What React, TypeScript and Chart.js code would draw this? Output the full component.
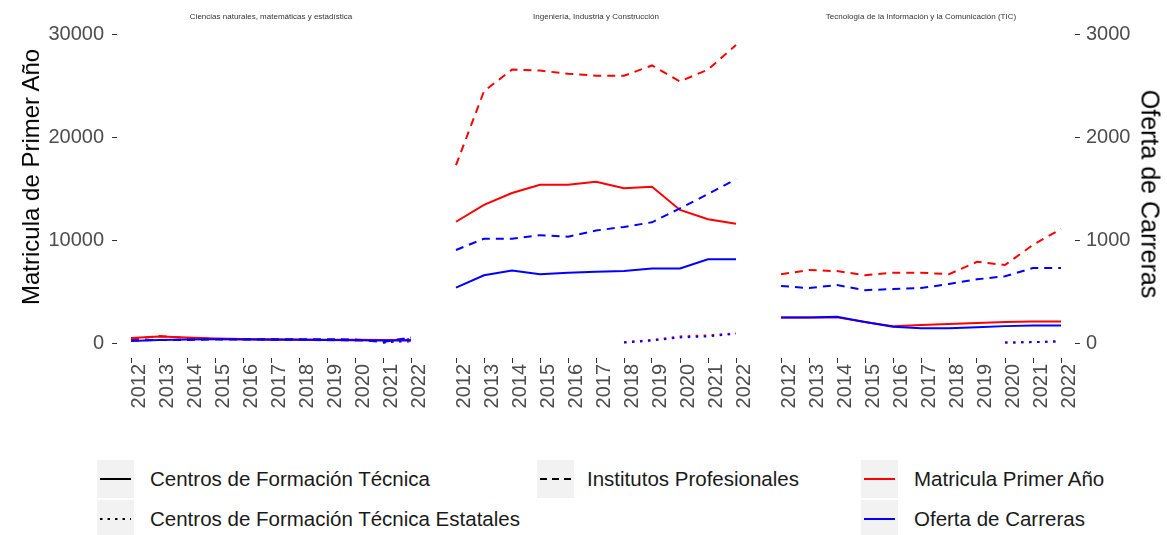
import React, { useEffect, useRef } from 'react';
import { Chart, registerables } from 'chart.js';

Chart.register(...registerables);

const FONT = '"Liberation Sans", Arial, Helvetica, sans-serif';
Chart.defaults.font.family = FONT;

// ---------- data ----------
const years = [2012, 2013, 2014, 2015, 2016, 2017, 2018, 2019, 2020, 2021, 2022];
const yTicks = [0, 10000, 20000, 30000];
const y1Ticks = [0, 1000, 2000, 3000];
const panelTitles = [
  'Ciencias naturales, matemáticas y estadística',
  'Ingeniería, Industria y Construcción',
  'Tecnología de la Información y la Comunicación (TIC)',
];

// Ciencias naturales
const cienciasMatCFT = [500, 650, 550, 450, 400, 380, 350, 330, 320, 300, 300];
const cienciasMatIP = [350, 700, 500, 400, 350, 330, 300, 280, 250, 250, 400];
const cienciasOfCFT = [20, 30, 35, 38, 35, 33, 32, 30, 28, 25, 25];
const cienciasOfIP = [25, 30, 30, 35, 38, 38, 38, 38, 35, 10, 55];
const cienciasYearsCFTE = [2021, 2022];
const cienciasMatCFTE = [80, 150];
const cienciasOfCFTE = [3, 40];

// Ingeniería
const ingMatCFT = [11800, 13450, 14600, 15400, 15400, 15700, 15050, 15200, 12950, 12050, 11600];
const ingMatIP = [17300, 24500, 26600, 26500, 26200, 26000, 26000, 27000, 25450, 26600, 29000];
const ingOfCFT = [540, 660, 705, 670, 685, 695, 700, 725, 725, 815, 815];
const ingOfIP = [905, 1015, 1015, 1050, 1035, 1095, 1130, 1175, 1310, 1450, 1595];
const ingYearsCFTE = [2018, 2019, 2020, 2021, 2022];
const ingMatCFTE = [100, 300, 650, 750, 950];
const ingOfCFTE = [5, 25, 55, 65, 90];

// TIC
const ticMatCFT = [2500, 2500, 2500, 2050, 1650, 1750, 1850, 1950, 2050, 2100, 2100];
const ticMatIP = [6700, 7100, 7000, 6600, 6850, 6850, 6700, 7900, 7600, 9550, 11100];
const ticOfCFT = [250, 250, 255, 205, 160, 145, 145, 155, 165, 170, 170];
const ticOfIP = [555, 535, 565, 515, 525, 535, 575, 620, 650, 730, 730];
const ticYearsCFTE = [2020, 2021, 2022];
const ticMatCFTE = [50, 100, 170];
const ticOfCFTE = [5, 10, 17];

// ---------- styling / layout ----------
const RED = '#FF0000';
const BLUE = '#0000FF';
const TICK_COLOR = '#4d4d4d';
const TICK_FONT = 20;
const Y_MIN = -1450;
const Y_MAX = 30450;
const X_MIN = 2011.5;
const X_MAX = 2022.5;
const DASH = [8, 6];
const DOT = [2.5, 5.5];

const AREA_TOP = 30;
const AREA_BOTTOM = 358;
const AREA_W = 308;
const CANVAS_H = 420;
const panelLefts = [117, 442, 767];
const RIGHT_AXIS_W = 1167 - (panelLefts[2] + AREA_W);

const pts = (xs: number[], ys: number[]) => xs.map((x, i) => ({ x, y: ys[i] }));

type PanelData = {
  matCFT: number[]; matIP: number[]; ofCFT: number[]; ofIP: number[];
  yearsCFTE: number[]; matCFTE: number[]; ofCFTE: number[];
};

const panels: PanelData[] = [
  { matCFT: cienciasMatCFT, matIP: cienciasMatIP, ofCFT: cienciasOfCFT, ofIP: cienciasOfIP, yearsCFTE: cienciasYearsCFTE, matCFTE: cienciasMatCFTE, ofCFTE: cienciasOfCFTE },
  { matCFT: ingMatCFT, matIP: ingMatIP, ofCFT: ingOfCFT, ofIP: ingOfIP, yearsCFTE: ingYearsCFTE, matCFTE: ingMatCFTE, ofCFTE: ingOfCFTE },
  { matCFT: ticMatCFT, matIP: ticMatIP, ofCFT: ticOfCFT, ofIP: ticOfIP, yearsCFTE: ticYearsCFTE, matCFTE: ticMatCFTE, ofCFTE: ticOfCFTE },
];

function buildConfig(p: PanelData, idx: number) {
  const showY = idx === 0;
  const showY1 = idx === 2;
  const padLeft = showY ? 0 : 15;
  const padRight = showY1 ? 0 : 15;
  const line = (data: any, color: string, dash: number[], axis: string, order: number) => ({
    data, borderColor: color, backgroundColor: color, borderDash: dash,
    borderWidth: 2, pointRadius: 0, fill: false, tension: 0, yAxisID: axis, order,
  });
  const gridTicks = { display: true, drawOnChartArea: false, drawTicks: true, tickLength: 5, color: '#333333' };
  return {
    type: 'line',
    data: {
      datasets: [
        line(pts(years, p.matCFT), RED, [], 'y', 2),
        line(pts(years, p.ofCFT), BLUE, [], 'y1', 1),
        line(pts(years, p.matIP), RED, DASH, 'y', 2),
        line(pts(years, p.ofIP), BLUE, DASH, 'y1', 1),
        line(pts(p.yearsCFTE, p.matCFTE), RED, DOT, 'y', 2),
        line(pts(p.yearsCFTE, p.ofCFTE), BLUE, DOT, 'y1', 0),
      ],
    },
    options: {
      animation: false,
      responsive: false,
      maintainAspectRatio: false,
      events: [],
      layout: { padding: { left: padLeft, right: padRight, top: AREA_TOP, bottom: 0 } },
      plugins: { legend: { display: false }, tooltip: { enabled: false }, title: { display: false } },
      scales: {
        x: {
          type: 'linear', min: X_MIN, max: X_MAX,
          afterBuildTicks: (s: any) => { s.ticks = years.map((v) => ({ value: v })); },
          afterFit: (s: any) => { s.height = CANVAS_H - AREA_BOTTOM; },
          ticks: {
            callback: (v: any) => String(v), minRotation: 90, maxRotation: 90, autoSkip: false,
            padding: 1, labelOffset: 8, color: TICK_COLOR, font: { size: TICK_FONT, family: FONT },
          },
          grid: gridTicks,
          border: { display: false },
        },
        y: {
          type: 'linear', position: 'left', min: Y_MIN, max: Y_MAX, display: showY,
          afterBuildTicks: (s: any) => { s.ticks = yTicks.map((v) => ({ value: v })); },
          afterFit: (s: any) => { s.width = showY ? panelLefts[0] : 0; },
          ticks: { callback: (v: any) => String(v), padding: 8, color: TICK_COLOR, font: { size: TICK_FONT, family: FONT } },
          grid: gridTicks,
          border: { display: false },
        },
        y1: {
          type: 'linear', position: 'right', min: Y_MIN / 10, max: Y_MAX / 10, display: showY1,
          afterBuildTicks: (s: any) => { s.ticks = y1Ticks.map((v) => ({ value: v })); },
          afterFit: (s: any) => { s.width = showY1 ? RIGHT_AXIS_W : 0; },
          ticks: { callback: (v: any) => String(v), padding: 6, color: TICK_COLOR, font: { size: TICK_FONT, family: FONT } },
          grid: gridTicks,
          border: { display: false },
        },
      },
    },
  };
}

function Panel({ idx }: { idx: number }) {
  const ref = useRef<HTMLCanvasElement>(null);
  const showY = idx === 0;
  const showY1 = idx === 2;
  const leftExtra = showY ? panelLefts[0] : 15;
  const rightExtra = showY1 ? RIGHT_AXIS_W : 15;
  const width = leftExtra + AREA_W + rightExtra;
  const left = panelLefts[idx] - leftExtra;
  useEffect(() => {
    const chart = new Chart(ref.current as HTMLCanvasElement, buildConfig(panels[idx], idx) as any);
    return () => chart.destroy();
  }, [idx]);
  return (
    <canvas
      ref={ref}
      width={width}
      height={CANVAS_H}
      style={{ position: 'absolute', left, top: 0, width, height: CANVAS_H }}
    />
  );
}

type LegendItem = { label: string; color: string; dash: string; keyLeft: number; textLeft: number; cy: number };
const legendItems: LegendItem[] = [
  { label: 'Centros de Formación Técnica', color: '#000', dash: '', keyLeft: 97, textLeft: 150, cy: 479 },
  { label: 'Centros de Formación Técnica Estatales', color: '#000', dash: '2.5 5', keyLeft: 97, textLeft: 150, cy: 519 },
  { label: 'Institutos Profesionales', color: '#000', dash: '7 5', keyLeft: 537, textLeft: 587, cy: 479 },
  { label: 'Matricula Primer Año', color: RED, dash: '', keyLeft: 861, textLeft: 914, cy: 479 },
  { label: 'Oferta de Carreras', color: BLUE, dash: '', keyLeft: 861, textLeft: 914, cy: 519 },
];

export default function App() {
  return (
    <div style={{ position: 'absolute', left: 0, top: 0, width: 1167, height: 535, background: '#fff', overflow: 'hidden', fontFamily: FONT }}>
      {[0, 1, 2].map((i) => (
        <Panel key={i} idx={i} />
      ))}
      {panelTitles.map((t, i) => (
        <div key={t} style={{ position: 'absolute', left: panelLefts[i] + AREA_W / 2, top: 16, transform: 'translate(-50%, -50%)', fontSize: 8, color: '#333', whiteSpace: 'nowrap' }}>{t}</div>
      ))}
      <div style={{ position: 'absolute', left: 31, top: 177, transform: 'translate(-50%, -50%) rotate(-90deg)', fontSize: 24, color: '#000', whiteSpace: 'nowrap' }}>Matricula de Primer Año</div>
      <div style={{ position: 'absolute', left: 1150, top: 194, transform: 'translate(-50%, -50%) rotate(90deg)', fontSize: 25, color: '#000', whiteSpace: 'nowrap' }}>Oferta de Carreras</div>
      {legendItems.map((it) => (
        <React.Fragment key={it.label}>
          <svg style={{ position: 'absolute', left: it.keyLeft, top: it.cy - 19 }} width={37} height={38}>
            <rect x={0} y={0} width={37} height={38} fill="#f2f2f2" />
            <line x1={3} y1={19} x2={34} y2={19} stroke={it.color} strokeWidth={2} strokeDasharray={it.dash || undefined} />
          </svg>
          <div style={{ position: 'absolute', left: it.textLeft, top: it.cy, transform: 'translateY(-50%)', fontSize: 20.5, color: '#1a1a1a', whiteSpace: 'nowrap' }}>{it.label}</div>
        </React.Fragment>
      ))}
    </div>
  );
}
